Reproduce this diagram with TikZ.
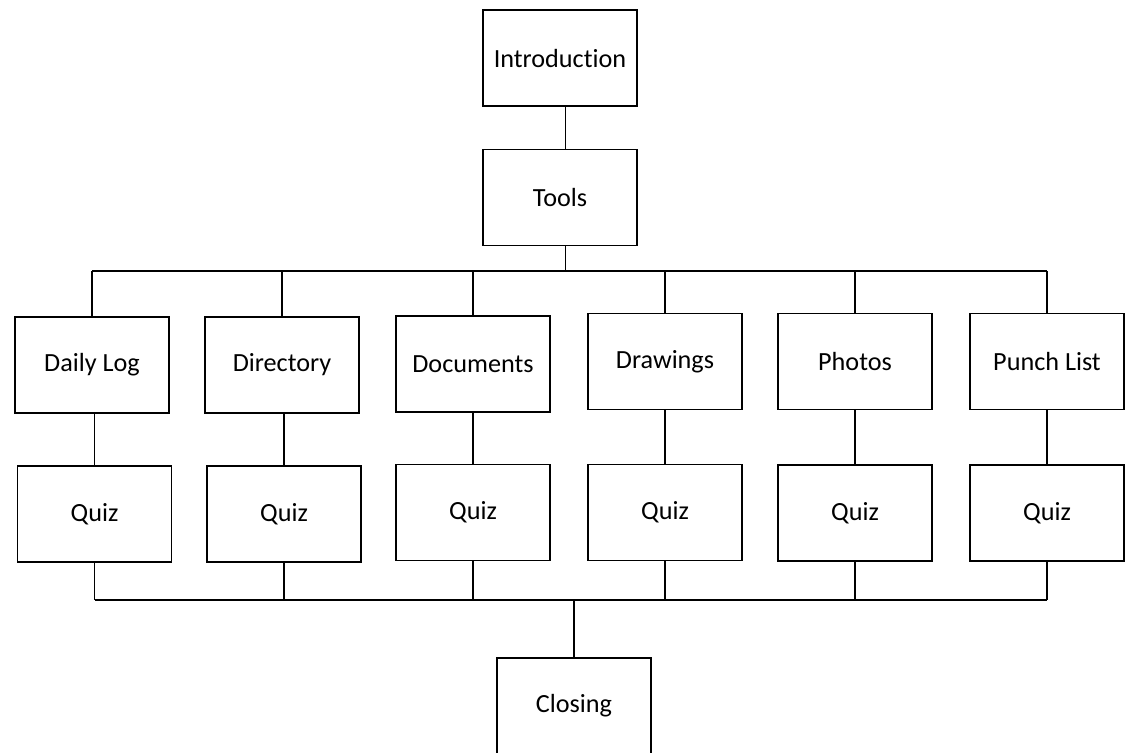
\documentclass[tikz,border=0pt]{standalone}
\usepackage{fontspec}
\setmainfont[Ligatures=NoCommon]{Carlito}
\begin{document}
\begin{tikzpicture}[x=0.42pt,y=0.42pt,yscale=-1,xscale=1,
  box/.style={draw,line width=0.6pt,minimum width=64.7pt,minimum height=40.3pt,inner sep=0.75pt,font=\fontsize{11}{13}\selectfont,align=center},
  link/.style={line width=0.45pt}]
\useasboundingbox (0,0) rectangle (1127,752);

% Shape: Rectangle
\node [box] (intro) at (560,58) {Introduction};
% Shape: Rectangle
\node [box] (tools) at (560,197.5) {Tools};
% Shape: Rectangle
\node [box] (dlog) at (92,365) {Daily Log};
\node [box] (quizA) at (94.5,514) {Quiz};
% Shape: Rectangle
\node [box] (dir) at (282,365) {Directory};
\node [box] (quizB) at (284,514) {Quiz};
% Shape: Rectangle
\node [box] (docs) at (473,364) {Documents};
\node [box] (quizC) at (473,512.5) {Quiz};
% Shape: Rectangle
\node [box] (draws) at (665,361.5) {Drawings};
\node [box] (quizD) at (665,512.5) {Quiz};
% Shape: Rectangle
\node [box] (photos) at (855,361.5) {Photos};
\node [box] (quizE) at (855,513) {Quiz};
% Shape: Rectangle
\node [box] (punch) at (1047,361.5) {Punch List};
\node [box] (quizF) at (1047,513) {Quiz};
% Shape: Rectangle
\node [box] (closing) at (574,706) {Closing};

%Straight Lines
\coordinate (topbus) at (0,271);
\coordinate (botbus) at (0,600);
\draw [link] ([xshift=2.5pt]intro.south) -- ([xshift=2.5pt]tools.north);
\draw [link] ([xshift=2.5pt]tools.south) -- ([xshift=2.5pt]tools.south |- topbus);
\draw [link] (dlog.north |- topbus) -- (punch.north |- topbus);
\draw [link] (quizA.south |- botbus) -- (quizF.south |- botbus);
\foreach \top/\bot in {dlog/quizA,dir/quizB,docs/quizC,draws/quizD,photos/quizE,punch/quizF}{
  \draw [link] (\top.north |- topbus) -- (\top.north);
  \draw [link] (\top.south) -- (\top.south -| \bot.north) -- (\bot.north);
  \draw [link] (\bot.south) -- (\bot.south |- botbus);
}
\draw [link] (closing.north |- botbus) -- (closing.north);
\end{tikzpicture}
\end{document}
